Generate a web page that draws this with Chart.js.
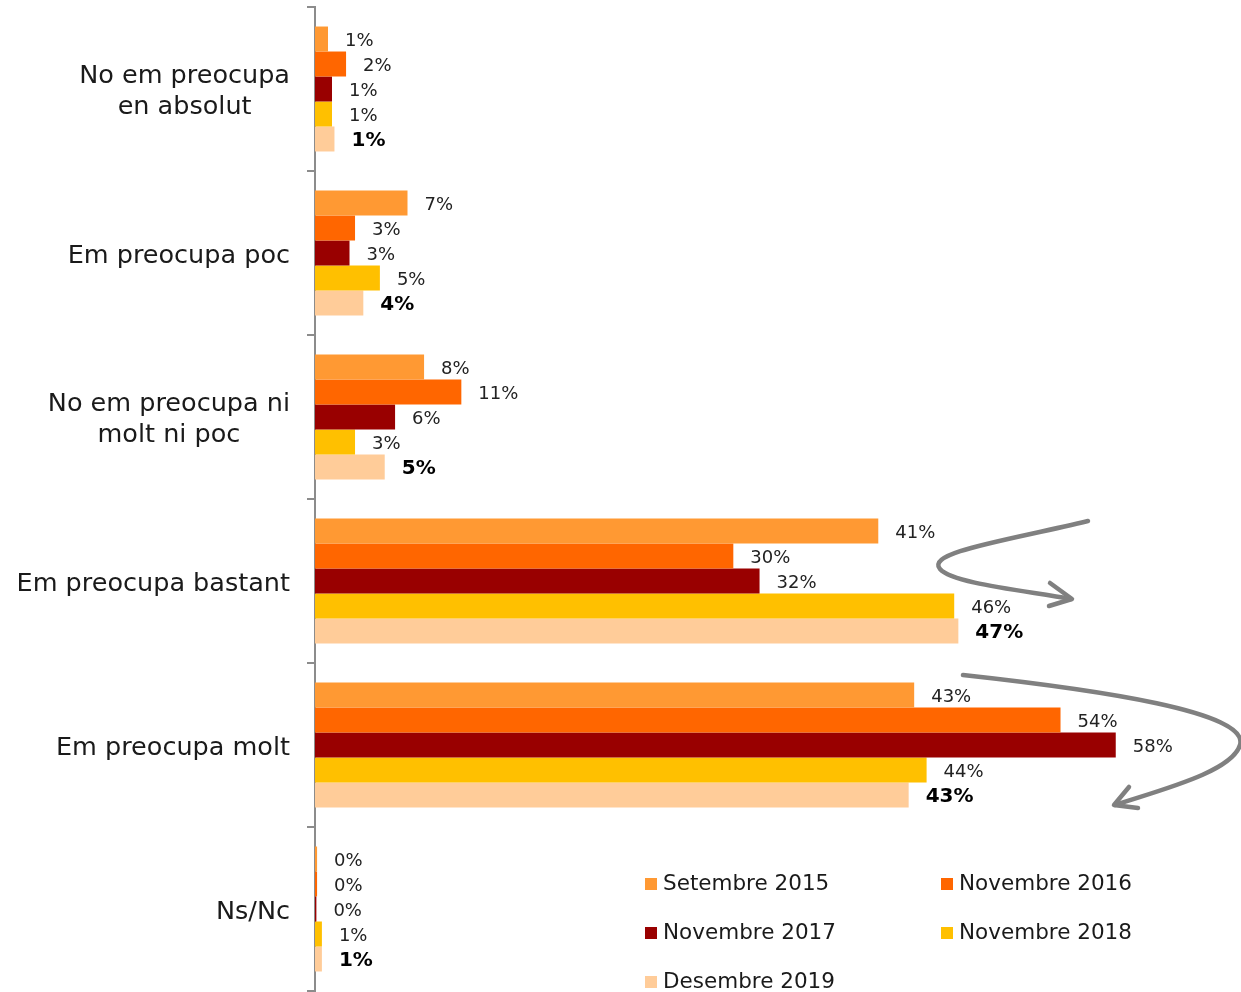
<!DOCTYPE html>
<html>
<head>
<meta charset="utf-8">
<script src="https://cdn.jsdelivr.net/npm/chart.js@4"></script>
<style>
  html, body { margin: 0; padding: 0; background: #fff; }
  #wrap { position: relative; width: 1241px; height: 992px; }
</style>
</head>
<body>
<div id="wrap"><canvas id="grafica" width="1241" height="992"></canvas></div>
<script>
// Dades
const categories = [
    ['No em preocupa', 'en absolut'],
    ['Em preocupa poc'],
    ['No em preocupa ni', 'molt ni poc'],
    ['Em preocupa bastant'],
    ['Em preocupa molt'],
    ['Ns/Nc']
];
const seriesNames = ['Setembre 2015', 'Novembre 2016', 'Novembre 2017', 'Novembre 2018', 'Desembre 2019'];
const seriesColors = ['#FF9933', '#FF6600', '#990000', '#FFC000', '#FFCC99'];

const setembre2015 = [0.94, 6.7, 7.9, 40.8, 43.4, 0.15];
const novembre2016 = [2.25, 2.9, 10.6, 30.3, 54.0, 0.15];
const novembre2017 = [1.23, 2.5, 5.8, 32.2, 58.0, 0.1];
const novembre2018 = [1.23, 4.7, 2.9, 46.3, 44.3, 0.5];
const desembre2019 = [1.41, 3.5, 5.05, 46.6, 43.0, 0.5];

const FONT = '"Century Gothic", "DejaVu Sans", sans-serif';

const allSeries = [setembre2015, novembre2016, novembre2017, novembre2018, desembre2019];
const datasets = allSeries.map((values, i) => ({
    label: seriesNames[i],
    data: values,
    backgroundColor: seriesColors[i],
    borderWidth: 0,
    categoryPercentage: 0.762,
    barPercentage: 1
}));

// Etiquetes de categoria (blocs alineats a la dreta, línies centrades)
const categoryLabels = {
    id: 'categoryLabels',
    afterDraw(chart) {
        const ctx = chart.ctx;
        const y = chart.scales.y;
        const rightX = 290;
        const lineH = 31;
        ctx.save();
        ctx.font = '25.5px ' + FONT;
        ctx.fillStyle = '#1a1a1a';
        ctx.textBaseline = 'middle';
        categories.forEach((lines, i) => {
            const cy = y.getPixelForValue(i) + 3;
            const widths = lines.map(l => ctx.measureText(l).width);
            const blockW = Math.max(...widths);
            const center = rightX - blockW / 2;
            ctx.textAlign = 'center';
            lines.forEach((l, j) => {
                ctx.fillText(l, center, cy + (j - (lines.length - 1) / 2) * lineH);
            });
        });
        ctx.restore();
    }
};

// Etiquetes de valor
const valueLabels = {
    id: 'valueLabels',
    afterDatasetsDraw(chart) {
        const ctx = chart.ctx;
        ctx.save();
        ctx.textBaseline = 'middle';
        ctx.textAlign = 'left';
        chart.data.datasets.forEach((ds, i) => {
            const meta = chart.getDatasetMeta(i);
            const last = i === chart.data.datasets.length - 1;
            ctx.font = (last ? 'bold 20px ' : '18px ') + FONT;
            ctx.fillStyle = last ? '#000' : '#222';
            meta.data.forEach((bar, j) => {
                ctx.fillText(Math.round(ds.data[j]) + '%', bar.x + 17, bar.y + 2);
            });
        });
        ctx.restore();
    }
};

// Llegenda a dins de l'àrea del gràfic
const llegenda = {
    id: 'llegenda',
    afterDraw(chart) {
        const ctx = chart.ctx;
        const cols = [645, 941];
        const rows = [884, 933, 982];
        ctx.save();
        ctx.font = '21.5px ' + FONT;
        ctx.textBaseline = 'middle';
        ctx.textAlign = 'left';
        seriesNames.forEach((name, i) => {
            const x = cols[i % 2];
            const y = rows[Math.floor(i / 2)];
            ctx.fillStyle = seriesColors[i];
            ctx.fillRect(x, y - 6, 12, 12);
            ctx.fillStyle = '#1a1a1a';
            ctx.fillText(name, x + 18, y);
        });
        ctx.restore();
    }
};

// Fletxes grises
const fletxes = {
    id: 'fletxes',
    afterDraw(chart) {
        const ctx = chart.ctx;
        ctx.save();
        ctx.strokeStyle = '#808080';
        ctx.lineWidth = 4.5;
        ctx.lineCap = 'round';
        ctx.lineJoin = 'round';

        ctx.beginPath();
        ctx.moveTo(1088, 521);
        ctx.bezierCurveTo(1010, 540, 925, 552, 940, 569);
        ctx.bezierCurveTo(952, 583, 1020, 590, 1071, 599);
        ctx.stroke();
        ctx.beginPath();
        ctx.moveTo(1050, 583);
        ctx.lineTo(1072, 599);
        ctx.lineTo(1049, 606);
        ctx.stroke();

        ctx.beginPath();
        ctx.moveTo(963, 675);
        ctx.bezierCurveTo(1100, 690, 1250, 712, 1240, 745);
        ctx.bezierCurveTo(1232, 772, 1160, 790, 1115, 805);
        ctx.stroke();
        ctx.beginPath();
        ctx.moveTo(1129, 787);
        ctx.lineTo(1114, 805);
        ctx.lineTo(1138, 808);
        ctx.stroke();
        ctx.restore();
    }
};

new Chart(document.getElementById('grafica').getContext('2d'), {
    type: 'bar',
    data: {
        labels: categories,
        datasets: datasets
    },
    options: {
        indexAxis: 'y',
        responsive: false,
        animation: false,
        layout: { padding: { top: 7, bottom: 1, right: 1, left: 0 } },
        scales: {
            x: { display: false, min: 0, max: 67 },
            y: {
                afterFit: (scale) => { scale.width = 315; },
                ticks: { display: false },
                grid: {
                    offset: true,
                    drawOnChartArea: false,
                    tickLength: 8,
                    color: '#8c8c8c',
                    lineWidth: 2
                },
                border: { color: '#8c8c8c', width: 2 }
            }
        },
        plugins: {
            legend: { display: false },
            tooltip: { enabled: false }
        }
    },
    plugins: [categoryLabels, valueLabels, llegenda, fletxes]
});
</script>
</body>
</html>
